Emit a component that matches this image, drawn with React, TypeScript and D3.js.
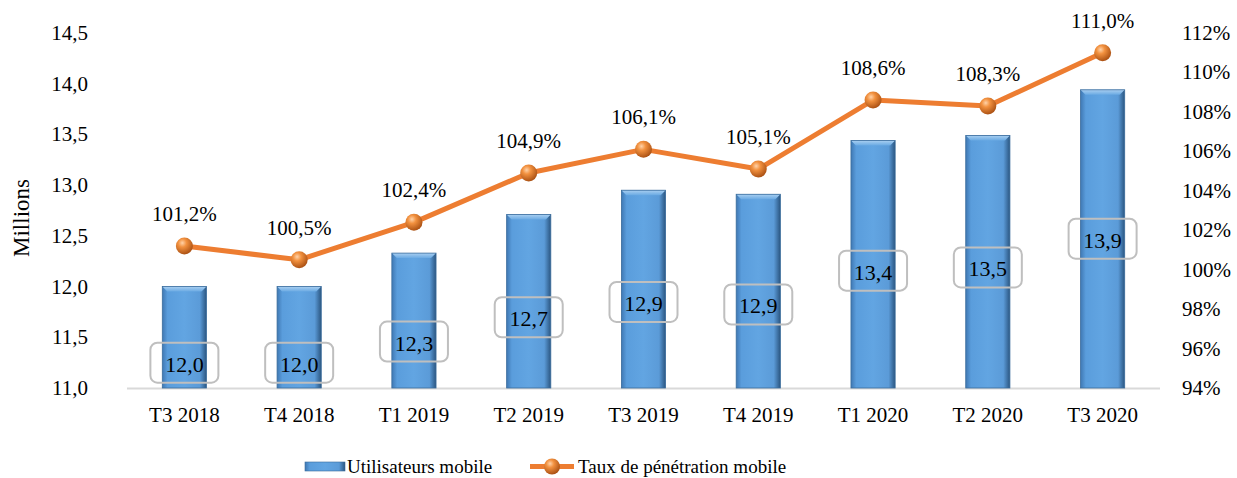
import React from "react";
import * as d3 from "d3";

// données
const quarters = ["T3 2018", "T4 2018", "T1 2019", "T2 2019", "T3 2019", "T4 2019", "T1 2020", "T2 2020", "T3 2020"];
const users = [12.0, 12.0, 12.33, 12.71, 12.95, 12.91, 13.44, 13.49, 13.94];
const userLabels = ["12,0", "12,0", "12,3", "12,7", "12,9", "12,9", "13,4", "13,5", "13,9"];
const penetration = [101.2, 100.5, 102.4, 104.9, 106.1, 105.1, 108.6, 108.3, 111.0];
const penetrationLabels = ["101,2%", "100,5%", "102,4%", "104,9%", "106,1%", "105,1%", "108,6%", "108,3%", "111,0%"];
const leftTicks = [11.0, 11.5, 12.0, 12.5, 13.0, 13.5, 14.0, 14.5];
const rightTicks = [94, 96, 98, 100, 102, 104, 106, 108, 110, 112];

const W = 1237;
const H = 478;
const FONT = "Liberation Serif, DejaVu Serif, serif";

const App = () => {
  const x = d3.scaleBand().domain(quarters).range([127, 1160]).padding(0);
  const yL = d3.scaleLinear().domain([11, 14.5]).range([388, 33]);
  const yR = d3.scaleLinear().domain([94, 112]).range([388, 33]);
  const barW = x.step() * 0.385;

  const line = d3
    .line<number>()
    .x((_, i) => x(quarters[i])! + x.bandwidth() / 2)
    .y((d) => yR(d));

  const fmt = (v: number) => d3.format(".1f")(v).replace(".", ",");

  // position des étiquettes de valeur (approximation de la mise en page Excel)
  const labelLevel = (v: number) => 11.25 + 0.63 * (v - 12);

  const txt = { fontFamily: FONT };

  return (
    <svg width={W} height={H} style={{ position: "fixed", left: 0, top: 0, background: "#fff", fontFamily: FONT }}>
      <defs>
        <linearGradient id="barGrad" x1="0" x2="1" y1="0" y2="0">
          <stop offset="0" stopColor="#3f78b3" />
          <stop offset="0.12" stopColor="#5a9ddc" />
          <stop offset="0.5" stopColor="#62a5e2" />
          <stop offset="0.85" stopColor="#5b9bd8" />
          <stop offset="1" stopColor="#2b5681" />
        </linearGradient>
        <linearGradient id="barTop" x1="0" x2="0" y1="0" y2="1">
          <stop offset="0" stopColor="#a9cff1" />
          <stop offset="1" stopColor="#6aaae3" />
        </linearGradient>
        <radialGradient id="ball" cx="0.38" cy="0.32" r="0.7">
          <stop offset="0" stopColor="#ffd2a8" />
          <stop offset="0.35" stopColor="#f2913f" />
          <stop offset="1" stopColor="#a94f12" />
        </radialGradient>
      </defs>

      {/* axe horizontal */}
      <line x1={127} x2={1160} y1={388.5} y2={388.5} stroke="#d9d9d9" strokeWidth={2} />

      {/* barres */}
      {users.map((v, i) => {
        const cx = x(quarters[i])! + x.bandwidth() / 2;
        const top = yL(v);
        return (
          <g key={quarters[i]}>
            <rect x={cx - barW / 2} y={top} width={barW} height={yL(11) - top} fill="url(#barGrad)" />
            <polygon
              points={`${cx - barW / 2},${top} ${cx + barW / 2},${top} ${cx + barW / 2 - 5},${top + 5} ${cx - barW / 2 + 5},${top + 5}`}
              fill="url(#barTop)"
            />
            <rect x={cx - barW / 2} y={top} width={barW} height={yL(11) - top} fill="none" stroke="#3a6c9c" strokeWidth={0.8} />
          </g>
        );
      })}

      {/* étiquettes des barres */}
      {users.map((v, i) => {
        const cx = x(quarters[i])! + x.bandwidth() / 2;
        const cy = yL(labelLevel(v));
        return (
          <g key={"lab" + i}>
            <rect x={cx - 34} y={cy - 20} width={68} height={40} rx={7} fill="none" stroke="#bfbfbf" strokeWidth={2} />
            <text x={cx} y={cy + 9} textAnchor="middle" fontSize={22} fill="#000" style={txt}>
              {userLabels[i]}
            </text>
          </g>
        );
      })}

      {/* courbe */}
      <path d={line(penetration) ?? ""} fill="none" stroke="#ed7d31" strokeWidth={5} strokeLinejoin="round" />
      {penetration.map((v, i) => {
        const cx = x(quarters[i])! + x.bandwidth() / 2;
        return (
          <g key={"pt" + i}>
            <circle cx={cx} cy={yR(v)} r={8.5} fill="url(#ball)" />
            <text x={cx} y={yR(v) - 25} textAnchor="middle" fontSize={21} fill="#000" style={txt}>
              {penetrationLabels[i]}
            </text>
          </g>
        );
      })}

      {/* axe gauche */}
      {leftTicks.map((t) => (
        <text key={"l" + t} x={88} y={yL(t) + 7} textAnchor="end" fontSize={21} fill="#000" style={txt}>
          {fmt(t)}
        </text>
      ))}
      <text transform={`translate(29,218) rotate(-90)`} textAnchor="middle" fontSize={23} fill="#000" style={txt}>
        Millions
      </text>

      {/* axe droit */}
      {rightTicks.map((t) => (
        <text key={"r" + t} x={1182} y={yR(t) + 7} textAnchor="start" fontSize={21} fill="#000" style={txt}>
          {t}%
        </text>
      ))}

      {/* catégories */}
      {quarters.map((q) => (
        <text key={q} x={x(q)! + x.bandwidth() / 2} y={422} textAnchor="middle" fontSize={21} fill="#000" style={txt}>
          {q}
        </text>
      ))}

      {/* légende */}
      <g>
        <rect x={305} y={462} width={40} height={9} fill="url(#barGrad)" stroke="#3a6c9c" strokeWidth={0.6} />
        <text x={347} y={473} fontSize={19} fill="#000" style={txt}>
          Utilisateurs mobile
        </text>
        <line x1={530} x2={574} y1={466.5} y2={466.5} stroke="#ed7d31" strokeWidth={5} />
        <circle cx={552} cy={466.5} r={8} fill="url(#ball)" />
        <text x={578} y={473} fontSize={19} fill="#000" style={txt}>
          Taux de pénétration mobile
        </text>
      </g>
    </svg>
  );
};

export default App;
